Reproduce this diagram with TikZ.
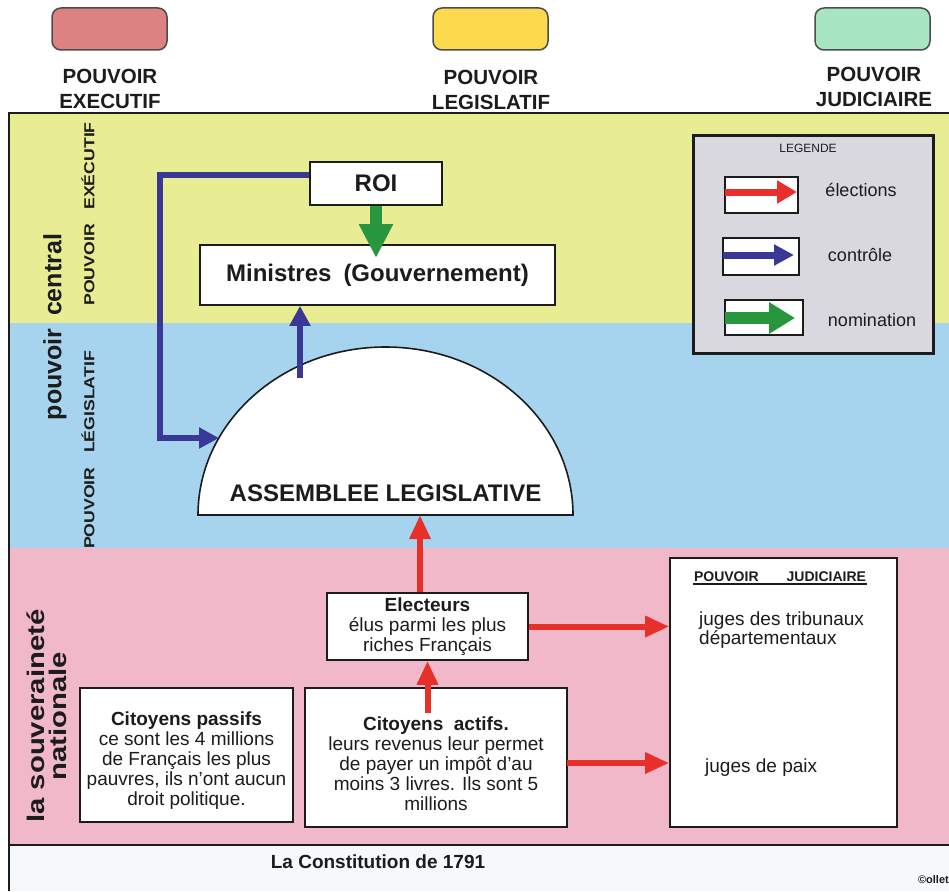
\documentclass[tikz,border=0pt]{standalone}
\usepackage{fontspec}
\setmainfont{Liberation Sans}
\newfontfamily\widesans[FakeStretch=1.22]{Liberation Sans}
\usetikzlibrary{arrows.meta,calc}
\definecolor{swred}{RGB}{221,130,130}
\definecolor{swyellow}{RGB}{253,217,78}
\definecolor{swgreen}{RGB}{168,229,194}
\definecolor{bandyellow}{RGB}{232,236,146}
\definecolor{bandblue}{RGB}{166,212,238}
\definecolor{bandpink}{RGB}{240,184,200}
\definecolor{bandwhite}{RGB}{246,249,251}
\definecolor{legendgray}{RGB}{216,216,222}
\definecolor{elecred}{RGB}{232,48,42}
\definecolor{ctrlblue}{RGB}{58,56,150}
\definecolor{nomgreen}{RGB}{40,150,60}
\definecolor{ink}{RGB}{28,28,28}
\begin{document}
\begin{tikzpicture}[x=1pt,y=-1pt,
  swatch/.style={draw=black!70,line width=1.5pt,rounded corners=9pt,minimum width=115pt,minimum height=42pt,inner sep=0pt},
  toplabel/.style={align=center,text=ink,font=\fontsize{20.5}{25}\selectfont\bfseries},
  box/.style={draw=ink,line width=1.6pt,fill=white,inner sep=0pt,text=ink,align=center},
  lbox/.style={draw=ink,line width=1.4pt,fill=white,inner sep=0pt},
  bodytext/.style={font=\fontsize{19}{20}\selectfont},
  elec/.style={draw=elecred,line width=6pt,-{Triangle[length=24pt,width=20pt]}},
  ctrl/.style={draw=ctrlblue,line width=6pt,-{Triangle[length=20pt,width=20pt]}},
  nom/.style={draw=nomgreen,line width=12pt,-{Triangle[length=34pt,width=32pt]}},
  sidelabel/.style={rotate=90,text=ink,font=\widesans\fontsize{14.5}{15}\selectfont\bfseries},
]
\useasboundingbox (0,0) rectangle (949,891);
\fill[white] (0,0) rectangle (949,891);

% top colour key
\node[swatch,fill=swred] (swR) at (109.5,29) {};
\node[swatch,fill=swyellow] (swY) at (490.5,29) {};
\node[swatch,fill=swgreen] (swG) at (872.5,29) {};
\node[toplabel] (tlR) at (110,89) {POUVOIR\\EXECUTIF};
\node[toplabel] (tlY) at (491,90) {POUVOIR\\LEGISLATIF};
\node[toplabel] (tlG) at (874,87) {POUVOIR\\JUDICIAIRE};

% bands
\fill[bandyellow] (9,113) rectangle (949,323);
\fill[bandblue] (9,323) rectangle (949,548);
\fill[bandpink] (9,548) rectangle (949,845);
\fill[bandwhite] (9,845) rectangle (949,891);
\draw[ink,line width=2pt] (9,891) -- (9,113) -- (949,113);
\draw[ink,line width=2pt] (9,845) -- (949,845);

% side labels
\node[rotate=90,text=ink,font=\fontsize{25}{26}\selectfont\bfseries] (pc) at (55,327) {pouvoir\enspace central};
\node[sidelabel] (pe) at (88,214) {POUVOIR\quad EXÉCUTIF};
\node[sidelabel] (pl) at (88,450) {POUVOIR\quad LÉGISLATIF};
\node[rotate=90,text=ink,align=center,font=\widesans\fontsize{24}{22}\selectfont\bfseries] (sn) at (47,716) {la souveraineté\\nationale};

% legend
\node[draw=ink,line width=3pt,fill=legendgray,minimum width=240pt,minimum height=218pt,inner sep=0pt] (leg) at (813,244) {};
\node[text=ink,font=\fontsize{12}{13}\selectfont] (legt) at (808,148) {LEGENDE};
\node[lbox,minimum width=73pt,minimum height=36pt] (lb1) at (761.5,195) {};
\node[lbox,minimum width=76pt,minimum height=37pt] (lb2) at (761,256.5) {};
\node[lbox,minimum width=78pt,minimum height=35pt] (lb3) at (764,317.5) {};
\coordinate (l1s) at (725,192); \coordinate (l1e) at (797,192);
\coordinate (l2s) at (723,255); \coordinate (l2e) at (794,255);
\coordinate (l3s) at (725,318); \coordinate (l3e) at (795,318);
\draw[elecred,line width=7pt,-{Triangle[length=20pt,width=22pt]}] (l1s) -- (l1e);
\draw[ctrlblue,line width=7pt,-{Triangle[length=20pt,width=20pt]}] (l2s) -- (l2e);
\draw[nomgreen,line width=12pt,-{Triangle[length=26pt,width=30pt]}] (l3s) -- (l3e);
\node[text=ink,font=\fontsize{18}{19}\selectfont] (le1) at (861,190) {élections};
\node[text=ink,font=\fontsize{18}{19}\selectfont] (le2) at (860,255) {contrôle};
\node[text=ink,font=\fontsize{18}{19}\selectfont] (le3) at (872,320) {nomination};

% central power
\node[box,minimum width=132pt,minimum height=43pt,font=\fontsize{24}{26}\selectfont\bfseries] (roi) at (376,183.5) {ROI};
\node[box,minimum width=355pt,minimum height=60pt,font=\fontsize{24}{26}\selectfont\bfseries] (min) at (377.5,275) {Ministres\enspace(Gouvernement)};

% assembly dome
\draw[ink,line width=1.6pt,fill=white] (198,515) arc[start angle=180,end angle=360,x radius=187.5,y radius=168] -- cycle;
\node[text=ink,font=\fontsize{24}{26}\selectfont\bfseries] (ass) at (385.5,493) {ASSEMBLEE LEGISLATIVE};
\coordinate (domeL) at (219,438);
\coordinate (domeT) at (300,378);
\coordinate (domeB) at (420,515);

% lower boxes
\node[box,minimum width=201pt,minimum height=67pt,bodytext] (el) at (427.5,626.5) {\textbf{Electeurs}\\élus parmi les plus\\riches Français};
\node[box,minimum width=262pt,minimum height=139pt] (act) at (436,757.5) {};
\node[text=ink,align=center,bodytext,inner sep=0pt] (actt) at (436,764) {\textbf{Citoyens\ \ actifs.}\\leurs revenus leur permet\\de payer un impôt d'au\\moins 3 livres. Ils sont 5\\millions};
\node[box,minimum width=213pt,minimum height=134pt] (pas) at (186.5,755) {};
\node[text=ink,align=center,bodytext,inner sep=0pt] (past) at (186.5,761) {\textbf{Citoyens\ passifs}\\ce sont les 4 millions\\de Français les plus\\pauvres, ils n'ont aucun\\droit politique.};
\node[box,minimum width=227pt,minimum height=269pt] (jud) at (783.5,692.5) {};
\node[text=ink,font=\fontsize{14}{15}\selectfont\bfseries,inner sep=1pt] (jt) at (780,577) {POUVOIR\qquad JUDICIAIRE};
\draw[ink,line width=2pt] ([yshift=-1pt]jt.south west) -- ([yshift=-1pt]jt.south east);
\node[text=ink,anchor=north west,align=left,font=\fontsize{19}{16}\selectfont,inner sep=0pt] (jd) at (699,612) {juges des tribunaux\\départementaux};
\node[text=ink,anchor=west,font=\fontsize{19}{20}\selectfont,inner sep=0pt] (jp) at (705,768) {juges de paix};

% connectors
\coordinate (c1) at (160,175);
\coordinate (c2) at (160,438);
\draw[ctrl,line join=miter] ([yshift=8.5pt]roi.west) -- (c1) -- (c2) -- (domeL);
\draw[ctrl] (domeT) -- (domeT |- min.south);
\coordinate (gtip) at (376,258);
\draw[nom] (roi.south) -- (gtip);
\draw[elec] (domeB |- el.north) -- (domeB);
\draw[elec] (el.east) -- (el.east -| jud.west);
\coordinate (aup) at (427.5,713);
\draw[elec] (aup) -- (el.south);
\coordinate (a2) at (567,763);
\draw[elec] (a2) -- (a2 -| jud.west);

% bottom
\node[text=ink,font=\fontsize{19}{20}\selectfont\bfseries] (title) at (378,862) {La Constitution de 1791};
\node[text=ink,anchor=east,font=\fontsize{11}{12}\selectfont\bfseries,inner sep=0pt] (cr) at (949,880) {©ollet};
\end{tikzpicture}
\end{document}
